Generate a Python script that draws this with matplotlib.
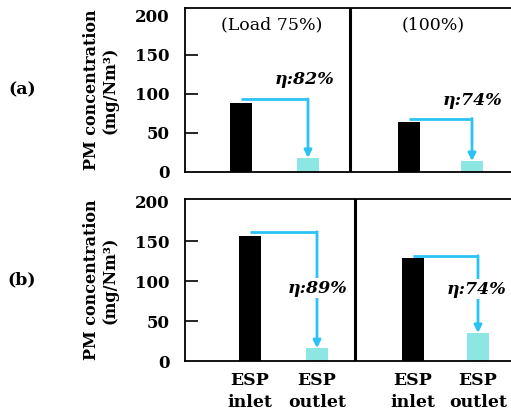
import matplotlib
matplotlib.use("Agg")
import matplotlib.pyplot as plt

# ESP inlet / outlet PM concentration (mg/Nm3)
categories = ["ESP\ninlet", "ESP\noutlet"]
load_labels = ["(Load 75%)", "(100%)"]
row_labels = ["(a)", "(b)"]
pm_a_75 = [88, 18]
pm_a_100 = [64, 14]
pm_b_75 = [156, 16]
pm_b_100 = [129, 35]
eff_a = ["82%", "74%"]
eff_b = ["89%", "74%"]

plt.rcParams["font.family"] = "DejaVu Serif"
plt.rcParams["font.weight"] = "bold"

W, H = 511, 419
fig = plt.figure(figsize=(W / 100, H / 100), dpi=100)

inlet_col = "black"
outlet_col = "#8ce6e2"
arrow_col = "#2cc3f4"


def make_axes(top, bottom):
    ax = fig.add_axes([185 / W, 1 - bottom / H, (530 - 185) / W, (bottom - top) / H])
    ax.set_xlim(185, 530)
    return ax


def draw_pair(ax, xs, vals, eff, level, text_y, text_x, boxed):
    ax.bar(xs, vals, width=22, color=[inlet_col, outlet_col])
    x0 = xs[0]
    x1 = xs[1]
    ax.plot([x0, x1], [level, level], color=arrow_col, lw=2, solid_capstyle="butt")
    ax.annotate("", xy=(x1, vals[1]), xytext=(x1, level + 0.6),
                arrowprops=dict(arrowstyle="-|>", color=arrow_col, lw=2,
                                mutation_scale=11, shrinkA=0, shrinkB=0))
    kw = {}
    if boxed:
        kw["bbox"] = dict(facecolor="white", edgecolor="none", pad=1)
    ax.text(text_x, text_y, "η:" + eff, style="italic", fontsize=12.5,
            ha="center", va="center", **kw)


def style(ax, ymax):
    ax.set_ylim(0, ymax)
    ax.set_yticks([0, 50, 100, 150, 200])
    ax.tick_params(axis="y", direction="in", length=9, width=1.2, pad=11,
                   labelsize=12)
    # no tick marks at the ends, only the labels
    yt = ax.yaxis.get_major_ticks()
    for t in (yt[0], yt[-1]):
        t.tick1line.set_visible(False)
    ax.spines["right"].set_visible(False)
    for s in ["left", "top", "bottom"]:
        ax.spines[s].set_linewidth(1.3)
    ax.set_ylabel("PM concentration\n(mg/Nm³)", fontsize=11.5, fontweight="bold",
                  labelpad=12, linespacing=1.1)


# row (a)
ax1 = make_axes(8, 172)
style(ax1, 210)
draw_pair(ax1, [241, 308], pm_a_75, eff_a[0], 93, 118, 305, False)
draw_pair(ax1, [409, 472], pm_a_100, eff_a[1], 68, 92, 473, False)
ax1.axvline(350, color="black", lw=2.2)
ax1.set_xticks([])
ax1.text(272, 188, load_labels[0], ha="center", va="center", fontsize=12.5,
         fontweight="normal")
ax1.text(433, 188, load_labels[1], ha="center", va="center", fontsize=12.5,
         fontweight="normal")

# row (b)
ax2 = make_axes(199, 361)
style(ax2, 202.5)
draw_pair(ax2, [250, 317], pm_b_75, eff_b[0], 161, 91, 318, True)
draw_pair(ax2, [413, 478], pm_b_100, eff_b[1], 131, 90, 477, True)
ax2.axvline(355, color="black", lw=2.2)
ax2.set_xticks([250, 317, 413, 478], categories * 2)
ax2.tick_params(axis="x", length=0, pad=8, labelsize=12.5)
for lbl in ax2.get_xticklabels():
    lbl.set_linespacing(1.35)

fig.text(22 / W, 1 - 90 / H, row_labels[0], ha="center", va="center", fontsize=12.5)
fig.text(22 / W, 1 - 280 / H, row_labels[1], ha="center", va="center", fontsize=12.5)

fig.savefig("out.png", dpi=100)
